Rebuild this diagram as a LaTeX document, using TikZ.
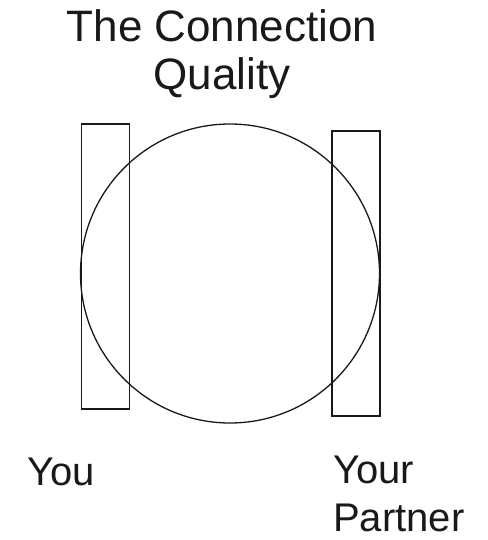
\documentclass[tikz,border=0pt]{standalone}
\usepackage{fontspec}
\setmainfont{Liberation Sans}
\usetikzlibrary{positioning}

\begin{document}
\begin{tikzpicture}[x=1pt, y=-1pt,
    outline/.style={draw=black!90, line width=1.3pt},
    bar/.style={outline, rectangle, inner sep=0pt, minimum width=48pt, minimum height=285pt},
    label/.style={inner sep=0pt, text=black!90}]
    \useasboundingbox (0,0) rectangle (487,540);

    % title
    \node[label, anchor=base, align=center, font=\fontsize{44}{48}\selectfont] (title) at (222,90) {The Connection\\Quality};

    % the two people and what is between them
    \node[bar] (you) at (105.5,266.5) {};
    \node[bar] (partner) at (356,273.5) {};
    \node[outline, circle, inner sep=0pt, minimum size=299pt] (link) at (230,273.5) {};

    % names
    \node[label, anchor=base west, font=\fontsize{40}{50}\selectfont] (younm) at (27,485) {You};
    \node[label, anchor=base west, align=left, font=\fontsize{40}{48}\selectfont] (partnernm) at (333,531) {Your\\Partner};
\end{tikzpicture}
\end{document}
